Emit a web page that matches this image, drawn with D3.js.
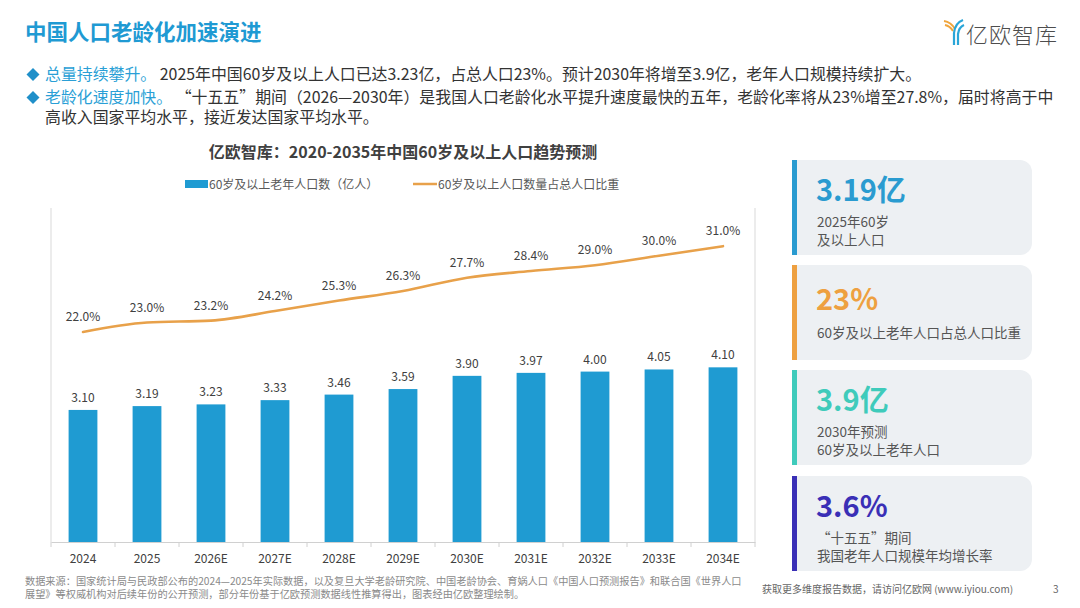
<!DOCTYPE html>
<html>
<head>
<meta charset="utf-8">
<script src="https://cdn.jsdelivr.net/npm/d3@7"></script>
<style>
  html, body { margin: 0; padding: 0; background: #fff; }
  svg { display: block; font-family: "Noto Sans CJK SC", "Noto Sans", sans-serif; }
</style>
</head>
<body>
<svg id="chart" width="1080" height="608"></svg>
<script>
// chart data
const years = ["2024", "2025", "2026E", "2027E", "2028E", "2029E", "2030E", "2031E", "2032E", "2033E", "2034E"];
const popValues = [3.10, 3.19, 3.23, 3.33, 3.46, 3.59, 3.90, 3.97, 4.00, 4.05, 4.10];
const ratioValues = [22.0, 23.0, 23.2, 24.2, 25.3, 26.3, 27.7, 28.4, 29.0, 30.0, 31.0];

const legendLabels = ["60岁及以上老年人口数（亿人）", "60岁及以上人口数量占总人口比重"];

const cardNumbers = ["3.19亿", "23%", "3.9亿", "3.6%"];
const cardTexts = [
    ["2025年60岁", "及以上人口"],
    ["60岁及以上老年人口占总人口比重"],
    ["2030年预测", "60岁及以上老年人口"],
    ["“十五五”期间", "我国老年人口规模年均增长率"]
];

const bulletHeads = ["总量持续攀升。", "老龄化速度加快。"];
const bulletLines = [
    [" 2025年中国60岁及以上人口已达3.23亿，占总人口23%。预计2030年将增至3.9亿，老年人口规模持续扩大。"],
    [" “十五五”期间（2026—2030年）是我国人口老龄化水平提升速度最快的五年，老龄化率将从23%增至27.8%，届时将高于中",
     "高收入国家平均水平，接近发达国家平均水平。"]
];

const sourceLines = [
    "数据来源：国家统计局与民政部公布的2024—2025年实际数据，以及复旦大学老龄研究院、中国老龄协会、育娲人口《中国人口预测报告》和联合国《世界人口",
    "展望》等权威机构对后续年份的公开预测，部分年份基于亿欧预测数据线性推算得出，图表经由亿欧整理绘制。"
];

const blue = "#1f9bd2";
const orange = "#e8a14a";
const cardColors = ["#2a9bd0", "#eea040", "#3fcbbb", "#3a2fb6"];

const svg = d3.select("#chart");

// ---- header ----
svg.append("text")
    .attr("x", 25).attr("y", 40)
    .attr("font-size", 21.5).attr("font-weight", 700)
    .attr("fill", "#1f9ad3")
    .text("中国人口老龄化加速演进");

const bulletY = [80, 103];
bulletHeads.forEach((head, i) => {
    const y0 = bulletY[i];
    svg.append("path")
        .attr("d", `M${33},${y0 - 12} L${39.5},${y0 - 5.5} L${33},${y0 + 1} L${26.5},${y0 - 5.5} Z`)
        .attr("fill", "#1f8fc9");
    const t = svg.append("text")
        .attr("x", 45).attr("y", y0)
        .attr("font-size", 15.9).attr("fill", "#333");
    bulletLines[i].forEach((line, j) => {
        if (j === 0) {
            t.append("tspan").attr("fill", "#2a9fd6").text(head);
            t.append("tspan").text(line);
        } else {
            t.append("tspan").attr("x", 45).attr("dy", 20).text(line);
        }
    });
});

// logo
const logo = svg.append("g");
logo.append("path")
    .attr("d", "M944,21 Q951,22 955,29")
    .attr("fill", "none").attr("stroke", "#f0a53c").attr("stroke-width", 2);
logo.append("path")
    .attr("d", "M945,25 Q950,26 953,31")
    .attr("fill", "none").attr("stroke", "#f0a53c").attr("stroke-width", 2);
logo.append("path")
    .attr("d", "M954,45 L954,33 Q955,23 963,20")
    .attr("fill", "none").attr("stroke", "#2aa6d8").attr("stroke-width", 2.2);
logo.append("path")
    .attr("d", "M958,45 L958,34 Q959,27 964,25")
    .attr("fill", "none").attr("stroke", "#2aa6d8").attr("stroke-width", 2.2);
svg.append("text")
    .attr("x", 966).attr("y", 43)
    .attr("font-size", 22).attr("font-weight", 300)
    .attr("fill", "#4d4d4d")
    .attr("letter-spacing", 1)
    .text("亿欧智库");

// ---- chart ----
const plotLeft = 51, plotRight = 755, plotTop = 208, plotBottom = 542;

svg.append("text")
    .attr("x", 403).attr("y", 158)
    .attr("text-anchor", "middle")
    .attr("font-size", 16).attr("font-weight", 700)
    .attr("fill", "#404040")
    .text("亿欧智库：2020-2035年中国60岁及以上人口趋势预测");

// legend
const legend = svg.append("g").attr("font-size", 12).attr("fill", "#595959");
legend.append("rect").attr("x", 185).attr("y", 180).attr("width", 23).attr("height", 8).attr("fill", blue);
legend.append("text").attr("x", 209).attr("y", 189).text(legendLabels[0]);
legend.append("line").attr("x1", 413).attr("x2", 437).attr("y1", 184).attr("y2", 184)
    .attr("stroke", orange).attr("stroke-width", 2.5);
legend.append("text").attr("x", 438).attr("y", 189).text(legendLabels[1]);

const x = d3.scaleBand()
    .domain(years)
    .range([plotLeft, plotRight])
    .paddingInner(0.55)
    .paddingOuter(0.275);

const yBar = d3.scaleLinear().domain([0, 7.84]).range([plotBottom, plotTop]);
const yLine = d3.scaleLinear().domain([0, 35]).range([plotBottom, plotTop]);

const g = svg.append("g");

// side borders
g.append("line").attr("x1", plotLeft).attr("x2", plotLeft).attr("y1", plotTop).attr("y2", plotBottom)
    .attr("stroke", "#d9d9d9").attr("stroke-width", 1);
g.append("line").attr("x1", plotRight).attr("x2", plotRight).attr("y1", plotTop).attr("y2", plotBottom)
    .attr("stroke", "#d9d9d9").attr("stroke-width", 1);

// bars
g.selectAll(".bar")
    .data(popValues)
    .enter().append("rect")
    .attr("class", "bar")
    .attr("x", (d, i) => x(years[i]))
    .attr("y", d => yBar(d))
    .attr("width", x.bandwidth())
    .attr("height", d => plotBottom - yBar(d))
    .attr("fill", blue);

g.selectAll(".bar-label")
    .data(popValues)
    .enter().append("text")
    .attr("class", "bar-label")
    .attr("x", (d, i) => x(years[i]) + x.bandwidth() / 2)
    .attr("y", d => yBar(d) - 8)
    .attr("text-anchor", "middle")
    .attr("font-size", 12).attr("fill", "#404040")
    .text(d => d.toFixed(2));

// x axis
const xAxis = d3.axisBottom(x).tickSize(0).tickPadding(12);
const axisG = g.append("g")
    .attr("transform", `translate(0,${plotBottom})`)
    .call(xAxis);
axisG.select(".domain").attr("stroke", "#d0d0d0");
axisG.selectAll("text")
    .attr("font-size", 12)
    .attr("fill", "#404040")
    .attr("font-family", "\"Noto Sans CJK SC\", sans-serif");

// tick marks between categories
const boundaries = years.map(d => x(d) + x.bandwidth() / 2 - x.step() / 2).concat([plotRight]);
g.selectAll(".sep")
    .data(boundaries)
    .enter().append("line")
    .attr("class", "sep")
    .attr("x1", d => d).attr("x2", d => d)
    .attr("y1", plotBottom).attr("y2", plotBottom + 5)
    .attr("stroke", "#d0d0d0");

// line
const line = d3.line()
    .x((d, i) => x(years[i]) + x.bandwidth() / 2)
    .y(d => yLine(d))
    .curve(d3.curveMonotoneX);

g.append("path")
    .datum(ratioValues)
    .attr("d", line)
    .attr("fill", "none")
    .attr("stroke", orange)
    .attr("stroke-width", 2.6)
    .attr("stroke-linecap", "round");

g.selectAll(".line-label")
    .data(ratioValues)
    .enter().append("text")
    .attr("class", "line-label")
    .attr("x", (d, i) => x(years[i]) + x.bandwidth() / 2)
    .attr("y", d => yLine(d) - 11)
    .attr("text-anchor", "middle")
    .attr("font-size", 12).attr("fill", "#404040")
    .text(d => d.toFixed(1) + "%");

// ---- cards ----
const cardTop = [160, 265, 370, 476];
const cardH = 95;
const cx0 = 797, cx1 = 1032, r = 12;

cardNumbers.forEach((num, i) => {
    const y0 = cardTop[i];
    const c = svg.append("g");
    c.append("path")
        .attr("d", `M${cx0},${y0} H${cx1 - r} A${r},${r} 0 0 1 ${cx1},${y0 + r} V${y0 + cardH - r} A${r},${r} 0 0 1 ${cx1 - r},${y0 + cardH} H${cx0} Z`)
        .attr("fill", "#edf0f3");
    c.append("rect")
        .attr("x", 792).attr("y", y0).attr("width", 5).attr("height", cardH)
        .attr("fill", cardColors[i]);
    const lines = cardTexts[i];
    const numY = lines.length === 1 ? y0 + 45 : y0 + 41;
    c.append("text")
        .attr("x", 816).attr("y", numY)
        .attr("font-size", 29).attr("font-weight", 700)
        .attr("fill", cardColors[i])
        .text(num);
    const desc = c.append("text")
        .attr("x", 817).attr("y", lines.length === 1 ? y0 + 73 : y0 + 67)
        .attr("font-size", 13.5).attr("fill", "#555");
    lines.forEach((t, j) => {
        desc.append("tspan")
            .attr("x", 817).attr("dy", j === 0 ? 0 : 17.5)
            .text(t);
    });
});

// ---- footer ----
const source = svg.append("text")
    .attr("x", 25).attr("y", 585)
    .attr("font-size", 10.2).attr("fill", "#8a8a8a");
sourceLines.forEach((t, i) => {
    source.append("tspan")
        .attr("x", 25).attr("dy", i === 0 ? 0 : 12.5)
        .text(t);
});

svg.append("text")
    .attr("x", 762).attr("y", 593)
    .attr("font-size", 10).attr("fill", "#666")
    .text("获取更多维度报告数据，请访问亿欧网 (www.iyiou.com)");
svg.append("text")
    .attr("x", 1053).attr("y", 593)
    .attr("font-size", 10).attr("fill", "#666")
    .text("3");
</script>
</body>
</html>
